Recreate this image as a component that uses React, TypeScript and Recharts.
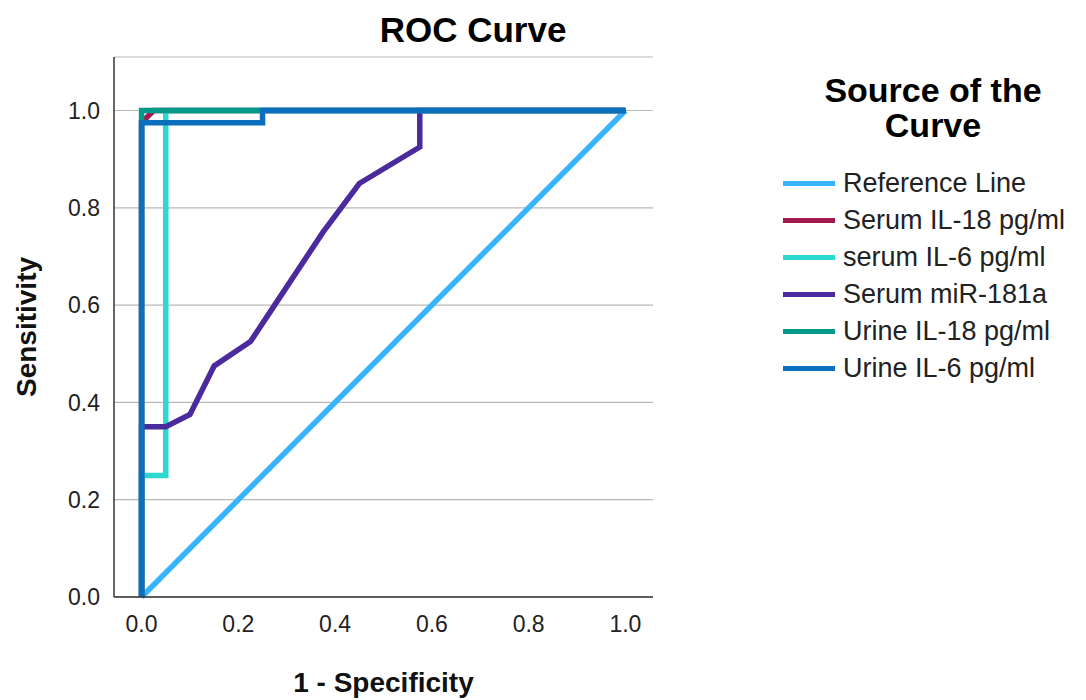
import { LineChart, Line, XAxis, YAxis, CartesianGrid, Label } from "recharts";

const FONT = '"Liberation Sans", Arial, sans-serif';

const xTicks = [0, 0.2, 0.4, 0.6, 0.8, 1.0];
const yTicks = [0, 0.2, 0.4, 0.6, 0.8, 1.0];

const seriesNames = [
  "Reference Line",
  "Serum IL-18 pg/ml",
  "serum IL-6 pg/ml",
  "Serum miR-181a",
  "Urine IL-18 pg/ml",
  "Urine IL-6 pg/ml",
];
const seriesColors = ["#38B4FF", "#A3184F", "#2CD8D0", "#4B2A9E", "#00998A", "#0B6FBE"];

// 1 - specificity (fpr) and sensitivity (tpr) per curve
const refFpr = [0, 1];
const refTpr = [0, 1];
const serumIl18Fpr = [0, 0, 0.025, 1];
const serumIl18Tpr = [0, 0.975, 1, 1];
const serumIl6Fpr = [0, 0, 0.05, 0.05, 1];
const serumIl6Tpr = [0, 0.25, 0.25, 1, 1];
const mirFpr = [0, 0, 0.05, 0.1, 0.15, 0.225, 0.275, 0.375, 0.45, 0.575, 0.575, 1];
const mirTpr = [0, 0.35, 0.35, 0.375, 0.475, 0.525, 0.6, 0.75, 0.85, 0.925, 1, 1];
const urineIl18Fpr = [0, 0, 1];
const urineIl18Tpr = [0, 1, 1];
const urineIl6Fpr = [0, 0, 0.25, 0.25, 1];
const urineIl6Tpr = [0, 0.975, 0.975, 1, 1];

const zip = (fpr: number[], tpr: number[]) => fpr.map((f, i) => ({ fpr: f, tpr: tpr[i] }));

const curves = [
  zip(refFpr, refTpr),
  zip(serumIl18Fpr, serumIl18Tpr),
  zip(serumIl6Fpr, serumIl6Tpr),
  zip(mirFpr, mirTpr),
  zip(urineIl18Fpr, urineIl18Tpr),
  zip(urineIl6Fpr, urineIl6Tpr),
];

export default function App() {
  return (
    <div style={{ position: "relative", width: 1070, height: 692, fontFamily: FONT }}>
      <div
        style={{
          position: "absolute", left: 0, top: 2, width: 930, textAlign: "center",
          fontSize: 35, fontWeight: "bold", lineHeight: "40px", color: "#000",
        }}
      >
        ROC Curve
      </div>

      <LineChart
        width={1070}
        height={692}
        margin={{ top: 49, right: 425, bottom: 13, left: 26 }}
        style={{ fontFamily: FONT }}
      >
        <CartesianGrid horizontal vertical={false} stroke="#b8b8b8" strokeWidth={1.2} />
        <XAxis
          dataKey="fpr"
          type="number"
          domain={[-0.057, 1.057]}
          ticks={xTicks}
          tickFormatter={(v: number) => v.toFixed(1)}
          tickSize={0}
          tickMargin={19}
          height={90}
          axisLine={{ stroke: "#333", strokeWidth: 1.5 }}
          tick={{ fill: "#222", fontSize: 23 }}
        >
          <Label value="1 - Specificity" position="center" dy={40}
            style={{ fontSize: 28, fontWeight: "bold", fill: "#111" }} />
        </XAxis>
        <YAxis
          type="number"
          domain={[0, 1.11]}
          ticks={yTicks}
          tickFormatter={(v: number) => v.toFixed(1)}
          tickSize={0}
          tickMargin={14}
          width={80}
          axisLine={{ stroke: "#333", strokeWidth: 1.5 }}
          tick={{ fill: "#222", fontSize: 23 }}
        >
          <Label value="Sensitivity" angle={-90} position="center" dx={-48}
            style={{ fontSize: 28, fontWeight: "bold", fill: "#111", textAnchor: "middle" }} />
        </YAxis>
        {curves.map((d, i) => (
          <Line
            key={seriesNames[i]}
            data={d}
            dataKey="tpr"
            name={seriesNames[i]}
            type="linear"
            stroke={seriesColors[i]}
            strokeWidth={5.5}
            dot={false}
            activeDot={false}
            isAnimationActive={false}
          />
        ))}
      </LineChart>

      <div style={{ position: "absolute", left: 775, top: 65, width: 300 }}>
        <div
          style={{
            textAlign: "center", fontSize: 34, fontWeight: "bold", lineHeight: "35px",
            width: 310, marginLeft: -5, color: "#000",
          }}
        >
          Source of the
          <br />
          Curve
        </div>
        <div style={{ marginTop: 22 }}>
          {seriesNames.map((n, i) => (
            <div key={n} style={{ display: "flex", alignItems: "center", height: 37 }}>
              <div style={{ width: 52, height: 5, background: seriesColors[i], marginRight: 8 }} />
              <span style={{ fontSize: 27, color: "#222", whiteSpace: "nowrap" }}>{n}</span>
            </div>
          ))}
        </div>
      </div>
    </div>
  );
}
